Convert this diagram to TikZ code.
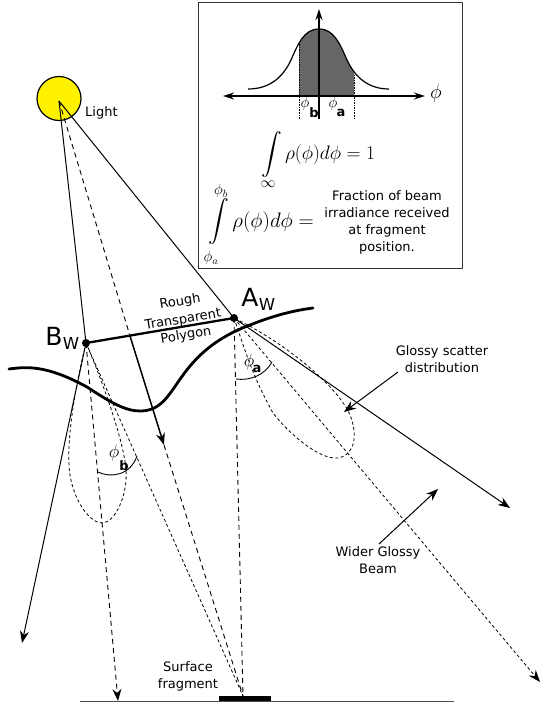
\documentclass[tikz,border=0pt]{standalone}
\usepackage{fix-cm}
\usepackage{exscale}
\usepackage{fontspec}
\setmainfont{DejaVu Sans}
\usetikzlibrary{arrows.meta}
\tikzset{
	ray/.style={line width=1pt},
	rayarrow/.style={-{Stealth[length=12pt,width=9pt]}},
	beam/.style={line width=0.9pt,dash pattern=on 5pt off 4pt},
	lobe/.style={line width=0.8pt,dash pattern=on 3pt off 2.5pt},
	label/.style={inner sep=0pt,align=center,font=\fontsize{13}{17}\selectfont},
	big/.style={inner sep=0pt,font=\fontsize{25}{25}\selectfont},
	sub/.style={inner sep=0pt,font=\fontsize{16.5}{16.5}\selectfont},
	tag/.style={inner sep=0pt,font=\fontsize{13}{13}\selectfont\bfseries},
	mathsmall/.style={inner sep=0pt,font=\fontsize{15}{15}\selectfont},
	mathmid/.style={inner sep=0pt,font=\fontsize{18}{18}\selectfont}
}
\begin{document}
\begin{tikzpicture}[x=1pt,y=-1pt,line cap=butt,line join=round]
	\useasboundingbox (0,0) rectangle (540,706);
	
	\coordinate (light) at (59,101);
	\coordinate (aw) at (234,318);
	\coordinate (bw) at (86,343);
	\coordinate (mid) at (130,336);
	\coordinate (midend) at (164,445);
	\coordinate (frag) at (243,696);
	
	% light
	\draw[fill=yellow,line width=1.2pt] (59,98.5) circle (22);
	\node[label,anchor=west] (lighttext) at (85,113) {Light};
	
	% inset
	\draw[line width=0.9pt,black!80] (198,2) rectangle (462,268);
	\begin{scope}
		\clip (299,0) rectangle (354,96);
		\path[fill=black!60] (248,96) -- (248,89) .. controls (270,89) and (283,77) .. (291,60)
		.. controls (298,44) and (304,29) .. (319,29)
		.. controls (334,29) and (340,44) .. (347,60)
		.. controls (355,77) and (368,89) .. (389,89) -- (389,96) -- cycle;
	\end{scope}
	\draw[line width=1.2pt] (248,89) .. controls (270,89) and (283,77) .. (291,60)
	.. controls (298,44) and (304,29) .. (319,29)
	.. controls (334,29) and (340,44) .. (347,60)
	.. controls (355,77) and (368,89) .. (389,89);
	\draw[line width=0.7pt,dash pattern=on 1.5pt off 1pt] (299,42) -- (299,119) (354,75) -- (354,119);
	\draw[line width=1.3pt,{Stealth[length=11pt,width=7pt]}-{Stealth[length=11pt,width=7pt]}] (223,96) -- (425,96);
	\draw[line width=1.3pt,-{Stealth[length=11pt,width=7pt]}] (319,119) -- (319,9);
	\node[inner sep=0pt,font=\fontsize{20}{20}\selectfont] (phiaxis) at (436,94) {$\phi$};
	\node[mathsmall] (phib) at (305,104) {$\phi$};
	\node[tag] (tagb) at (314,113) {b};
	\node[mathsmall] (phia) at (333,104) {$\phi$};
	\node[tag] (taga) at (341,113) {a};
	\node[inner sep=0pt,font=\fontsize{19.5}{19.5}\selectfont] (eqone) at (318,155) {$\displaystyle\int\rho(\phi)d\phi=1$};
	\node[mathsmall] (infty) at (268,184) {$\infty$};
	\node[inner sep=0pt,font=\fontsize{21}{21}\selectfont] (eqtwo) at (261,222) {$\displaystyle\int\rho(\phi)d\phi=$};
	\node[mathsmall] (limb) at (221,191) {$\phi_b$};
	\node[mathsmall] (lima) at (211,258) {$\phi_a$};
	\node[label] (fraction) at (387,222.5) {Fraction of beam\\irradiance received\\at fragment\\position.};
	
	% surface
	\draw[line width=1pt,black!70] (80,701) -- (454,701);
	\fill (219,696) rectangle (271,701);
	\node[label] (surfacetext) at (188,676.5) {Surface\\fragment};
	
	% rays
	\draw[ray] (light) -- (aw);
	\draw[ray] (light) -- (bw);
	\draw[beam] (light) -- (mid);
	\draw[ray,rayarrow] (aw) -- (510,508);
	\draw[ray,rayarrow] (bw) -- (22,643);
	\draw[line width=1.5pt,rayarrow] (mid) -- (midend);
	\draw[beam] (midend) -- (frag);
	\draw[beam] (aw) -- (frag);
	\draw[lobe] (bw) -- (frag);
	\draw[lobe,rayarrow] (aw) -- (540,682);
	\draw[beam,rayarrow] (bw) -- (118,701);
	
	% glossy lobes
	\draw[lobe] (aw) .. controls (245,350) and (252,375) .. (273,413)
	.. controls (290,435) and (320,460) .. (338,458)
	.. controls (355,455) and (358,435) .. (350,415)
	.. controls (340,390) and (290,345) .. (aw);
	\draw[lobe] (bw) .. controls (72,400) and (66,450) .. (70,475)
	.. controls (75,505) and (92,524) .. (103,523)
	.. controls (115,522) and (128,495) .. (126,470)
	.. controls (124,440) and (100,375) .. (bw);
	
	% angles
	\draw[line width=0.9pt] (236,379) .. controls (250,381) and (265,375) .. (272,362);
	\draw[line width=0.9pt] (98,472) .. controls (110,478) and (130,476) .. (137,456);
	\node[mathmid] (phiaw) at (249,362) {$\phi$};
	\node[tag] (tagaw) at (257,369) {a};
	\node[mathmid] (phibw) at (114,453) {$\phi$};
	\node[tag] (tagbw) at (124,466) {b};
	
	% polygon and refraction interface
	\draw[line width=2.8pt,line cap=round] (9,369) .. controls (25,367) and (45,364) .. (87,387)
	.. controls (110,402) and (125,411) .. (140,411)
	.. controls (180,411) and (170,355) .. (250,325)
	.. controls (270,317) and (290,311) .. (313,308);
	\draw[line width=2.3pt] (bw) -- (aw);
	\fill (aw) circle (4);
	\fill (bw) circle (4);
	\node[big] (atext) at (250,297) {A};
	\node[sub] (awtext) at (267,304) {W};
	\node[big] (btext) at (54,336) {B};
	\node[sub] (bwtext) at (71,343) {W};
	\node[label,rotate=9.5] (roughtext) at (180,302) {Rough};
	\node[label,rotate=9.5] (transtext) at (183,320) {Transparent};
	\node[label,rotate=9.5] (polytext) at (186,335.5) {Polygon};
	
	% callouts
	\node[label] (glossytext) at (442,359.5) {Glossy scatter\\distribution};
	\draw[ray,rayarrow] (398,372) -- (344,412);
	\node[label] (widertext) at (378,560.5) {Wider Glossy\\Beam};
	\draw[ray,rayarrow] (379,544) -- (438,489);
\end{tikzpicture}
\end{document}
